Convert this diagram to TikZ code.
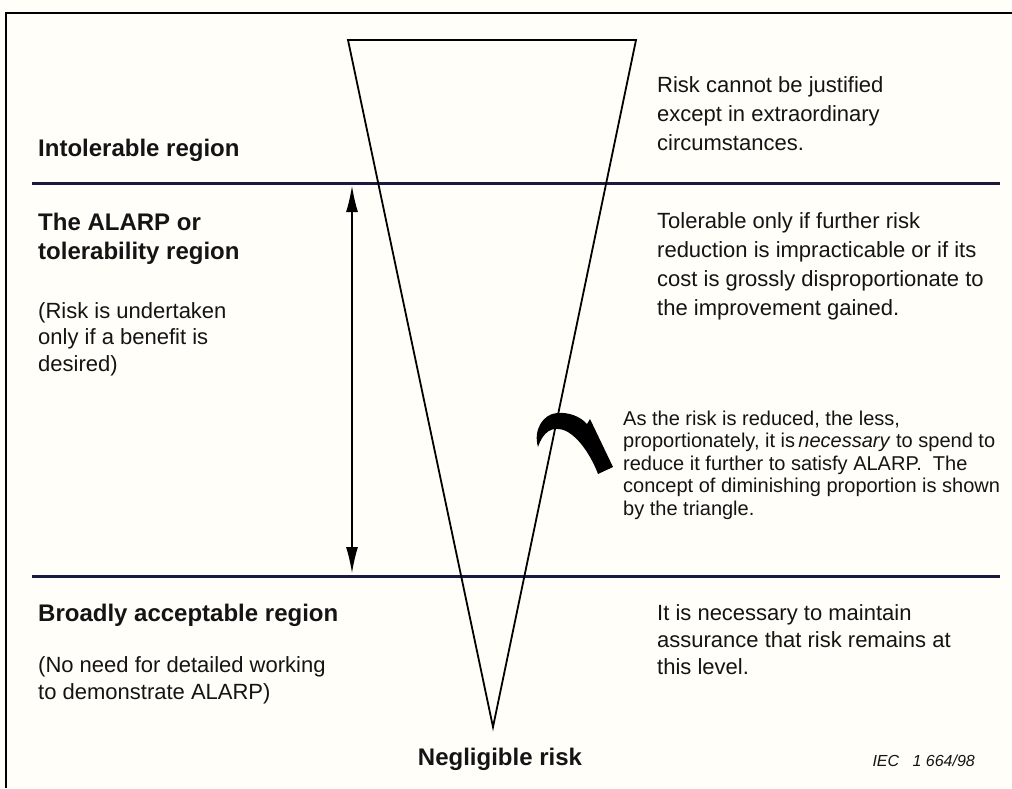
\documentclass[tikz,border=0pt]{standalone}
\usepackage{fontspec}
\setmainfont{Liberation Sans}
\usetikzlibrary{arrows.meta}
\definecolor{navy}{HTML}{1A1A40}
\definecolor{paper}{HTML}{FFFEF8}
\definecolor{ink}{HTML}{141414}
\begin{document}
\begin{tikzpicture}[x=1pt,y=-1pt,
  headtext/.style={font=\fontsize{24}{29}\selectfont\bfseries, text=ink, anchor=base west, inner sep=0pt, align=left},
  bodytext/.style={font=\fontsize{22}{29}\selectfont, text=ink, anchor=base west, inner sep=0pt, align=left},
  lefttext/.style={font=\fontsize{22}{26.5}\selectfont, text=ink, anchor=base west, inner sep=0pt, align=left},
  smalltext/.style={font=\fontsize{20}{22.5}\selectfont, text=ink, anchor=base west, inner sep=0pt, align=left},
  divider/.style={draw=navy, line width=3pt},
  frame/.style={draw=black, line width=2pt},
  tri/.style={draw=black, line width=1.8pt, line join=miter}
]
\fill[paper] (0,0) rectangle (1012,788);
\useasboundingbox (0,0) rectangle (1012,788);

% frame
\coordinate (ftl) at (6,13);
\coordinate (ftr) at (1012,13);
\coordinate (fbl) at (6,788);
\draw[frame] (ftr) -- (ftl) -- (fbl);

% dividers
\coordinate (d1l) at (32,183);
\coordinate (d1r) at (1000,183);
\coordinate (d2l) at (32,576);
\coordinate (d2r) at (1000,576);
\draw[divider] (d1l) -- (d1r);
\draw[divider] (d2l) -- (d2r);

% triangle
\coordinate (tl) at (348,40);
\coordinate (tr) at (636,40);
\coordinate (apex) at (493,727);
\draw[tri] (tl) -- (tr) -- (apex) -- cycle;

% double arrow
\coordinate (at) at (352,186);
\coordinate (ab) at (352,573);
\draw[line width=1.2pt, {Latex[length=26pt,width=12pt]}-{Latex[length=26pt,width=12pt]}] (at) -- (ab);

% curved arrow
\fill[black] (538,447) .. controls (533,430) and (543,414) .. (557,413)
  .. controls (568,412) and (580,416) .. (587,424) -- (590,419) -- (613,467) -- (598,474)
  .. controls (592,458) and (580,438) .. (566,431)
  .. controls (552,425) and (543,432) .. (538,447) -- cycle;

% left labels (base anchor = last line)
\node[headtext] (intol) at (38,156) {Intolerable region};
\node[headtext] (alarp) at (38,259) {The ALARP or\\tolerability region};
\node[lefttext] (undert) at (38,371) {(Risk is undertaken\\only if a benefit is\\desired)};
\node[headtext] (broad) at (38,621) {Broadly acceptable region};
\node[lefttext] (noneed) at (38,699) {(No need for detailed working\\to demonstrate ALARP)};

% right texts
\node[bodytext] (r1) at (657,150) {Risk cannot be justified\\except in extraordinary\\circumstances.};
\node[bodytext] (r2) at (657,315) {Tolerable only if further risk\\reduction is impracticable or if its\\cost is grossly disproportionate to\\the improvement gained.};
\node[bodytext, font=\fontsize{22}{27}\selectfont] (r3) at (657,674) {It is necessary to maintain\\assurance that risk remains at\\this level.};
\node[smalltext] (r4) at (623,515) {As the risk is reduced, the less,\\proportionately, it is\,\textit{necessary} to spend to\\reduce it further to satisfy ALARP.\ \ The\\concept of diminishing proportion is shown\\by the triangle.};

% bottom
\node[font=\fontsize{24}{29}\selectfont\bfseries, text=ink, anchor=base, inner sep=0pt] (negl) at (500,765) {Negligible risk};
\node[font=\fontsize{16}{18}\selectfont\itshape, text=ink, anchor=base east, inner sep=0pt] (iec) at (975,766) {IEC\ \ \ 1 664/98};
\end{tikzpicture}
\end{document}
